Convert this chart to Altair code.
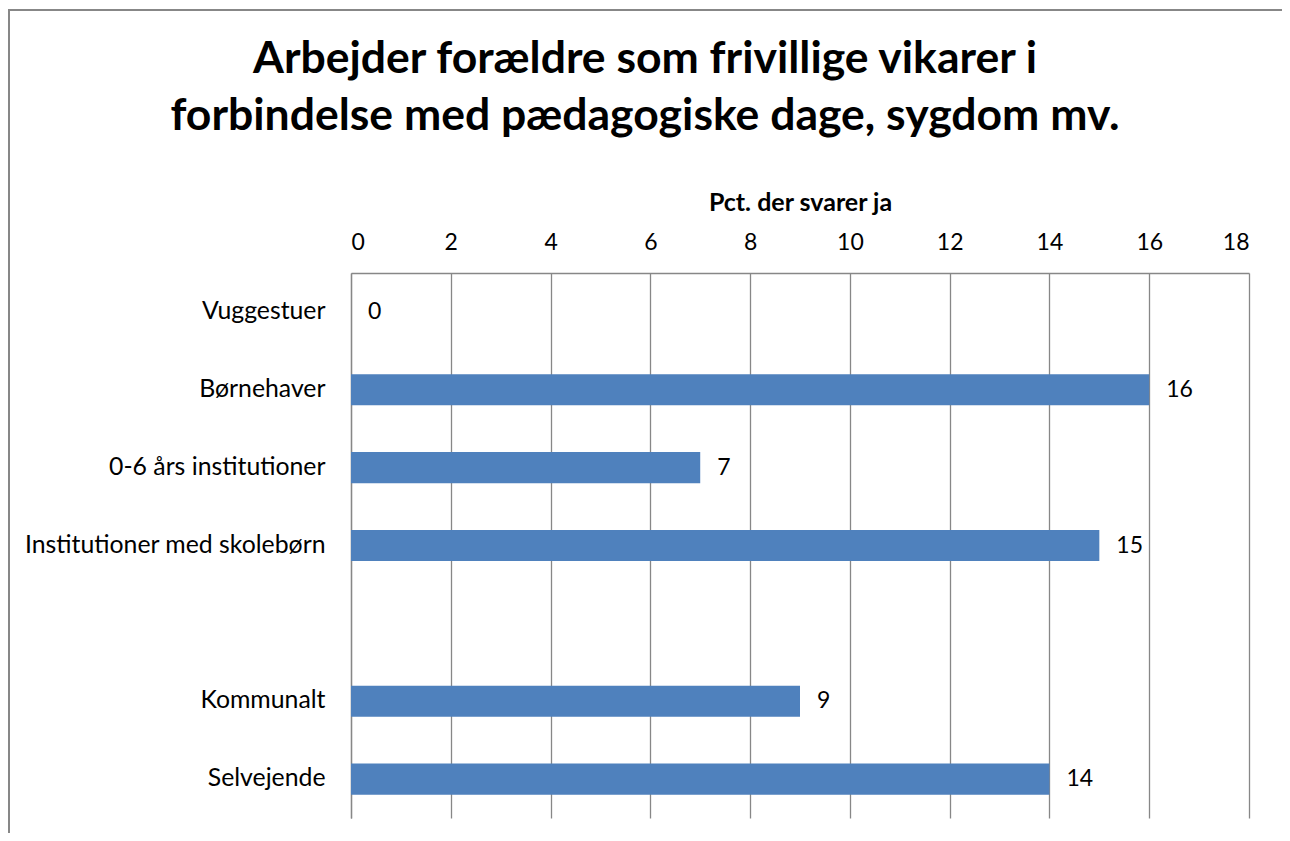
import altair as alt
import pandas as pd

categories = ["Vuggestuer", "Børnehaver", "0-6 års institutioner",
              "Institutioner med skolebørn", " ", "Kommunalt", "Selvejende"]
values = [0, 16, 7, 15, None, 9, 14]
x_ticks = [0, 2, 4, 6, 8, 10, 12, 14, 16, 18]
title_lines = ["Arbejder forældre som frivillige vikarer i",
               "forbindelse med pædagogiske dage, sygdom mv."]
axis_title = "Pct. der svarer ja"

df = pd.DataFrame({"kategori": categories, "pct": values}).dropna()

FONT = "Lato"
GRAY = "#878787"
BAR = "#4F81BD"

W, H = 898, 545

y_enc = alt.Y("kategori:N", scale=alt.Scale(domain=categories, paddingInner=0.6, paddingOuter=0.3),
              axis=alt.Axis(title=None, ticks=False, labelPadding=26, labelFontSize=24.8,
                            labelFont=FONT, labelColor="black", domainColor=GRAY,
                            domainWidth=1.3, grid=False, labelLimit=400))
x_enc = alt.X("pct:Q", scale=alt.Scale(domain=[0, 18], nice=False, zero=True),
              axis=alt.Axis(orient="top", values=x_ticks, title=axis_title, ticks=False, tickSize=0,
                            labelFontSize=23, labelFont=FONT, labelColor="black",
                            labelPadding=19, titleFont=FONT, titleFontSize=25,
                            titleFontWeight="bold", titleColor="black", titlePadding=16,
                            domainColor=GRAY, domainWidth=1.3, grid=True, gridColor=GRAY,
                            gridWidth=1.3, gridOpacity=1))

bars = alt.Chart(df).mark_bar(color=BAR).encode(x=x_enc, y=y_enc)
labels = alt.Chart(df).mark_text(align="left", baseline="middle", dx=17, fontSize=23,
                                 font=FONT, color="black").encode(
    x="pct:Q", y=alt.Y("kategori:N"), text=alt.Text("pct:Q", format="d"))

frame = alt.Chart(pd.DataFrame({"f": [0]})).mark_rect(
    fillOpacity=0, stroke=GRAY, strokeWidth=2).encode(
    x=alt.value(-342), y=alt.value(-263), x2=alt.value(1600), y2=alt.value(1600))

title = alt.Chart(pd.DataFrame({"f": [0]})).mark_text(
    align="center", baseline="alphabetic", fontSize=44.5, font=FONT, fontWeight="bold",
    color="black", lineHeight=57).encode(
    x=alt.value(294), y=alt.value(-200), text=alt.value(title_lines))

chart = alt.layer(frame, bars, labels, title).properties(
    width=W, height=H,
    padding={"left": 343, "top": 265, "right": 33, "bottom": 15},
    autosize=alt.AutoSizeParams(type="none"),
    background="white",
).configure_view(stroke=None)

chart.save("out.html", embed_options={"renderer": "svg", "actions": False})
